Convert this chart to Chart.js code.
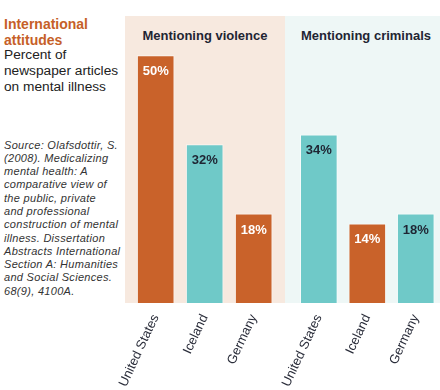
<!DOCTYPE html>
<html>
<head>
<meta charset="utf-8">
<script src="https://cdn.jsdelivr.net/npm/chart.js@4"></script>
<style>
  html, body { margin: 0; padding: 0; background: #fff; }
  #wrap { position: relative; width: 440px; height: 390px; overflow: hidden; font-family: 'Liberation Sans', Arial, sans-serif; }
  .panel { position: absolute; top: 16px; height: 287px; }
  #panelViolence { left: 125px; width: 160px; background: #f7e9df; }
  #panelCriminals { left: 285px; width: 155px; background: #eef7f6; }
  .panelTitle { position: absolute; top: 28px; line-height: 15px; font-weight: bold; font-size: 13px; color: #1f2533; text-align: center; white-space: nowrap; }
  #title { position: absolute; left: 4px; top: 15.5px; font-size: 14px; line-height: 16px; font-weight: bold; color: #c65f28; }
  #subtitle { position: absolute; left: 4px; top: 46.5px; font-size: 13.7px; line-height: 16.4px; color: #222; }
  #source { position: absolute; left: 4px; top: 138.5px; font-size: 11px; line-height: 13.3px; letter-spacing: 0.3px; font-style: italic; color: #333; white-space: nowrap; }
  canvas { position: absolute; left: 0; top: 0; }
</style>
</head>
<body>
<div id="wrap">
  <div class="panel" id="panelViolence"></div>
  <div class="panel" id="panelCriminals"></div>
  <div class="panelTitle" style="left:125px; width:160px;">Mentioning violence</div>
  <div class="panelTitle" style="left:290px; width:152px;">Mentioning criminals</div>
  <div id="title">International<br>attitudes</div>
  <div id="subtitle">Percent of<br>newspaper articles<br>on mental illness</div>
  <div id="source">Source: Olafsdottir, S.<br>(2008). Medicalizing<br>mental health: A<br>comparative view of<br>the public, private<br>and professional<br>construction of mental<br>illness. Dissertation<br>Abstracts International<br>Section A: Humanities<br>and Social Sciences.<br>68(9), 4100A.</div>
  <canvas id="chartViolence" width="440" height="390"></canvas>
  <canvas id="chartCriminals" width="440" height="390"></canvas>
</div>
<script>
const countries = ['United States', 'Iceland', 'Germany'];
const violenceValues = [50, 32, 18];
const violenceText = ['50%', '32%', '18%'];
// the picture prints 14% but draws that bar at about 16% height
const criminalsValues = [34, 16, 18];
const criminalsText = ['34%', '14%', '18%'];

const orange = '#c9622a';
const teal = '#6fc9c8';
const white = '#ffffff';
const dark = '#1f2533';

const valueLabels = {
    id: 'valueLabels',
    afterDatasetsDraw(chart, args, opts) {
        const ctx = chart.ctx;
        const bars = chart.getDatasetMeta(0).data;
        ctx.save();
        ctx.font = 'bold 13px "Liberation Sans", Arial, sans-serif';
        ctx.textAlign = 'center';
        ctx.textBaseline = 'middle';
        bars.forEach((bar, i) => {
            ctx.fillStyle = opts.colors[i];
            ctx.fillText(opts.text[i], bar.x, bar.y + 16);
        });
        ctx.restore();
    }
};

function makeChart(id, values, text, barColors, textColors, padLeft, padRight) {
    return new Chart(document.getElementById(id), {
        type: 'bar',
        data: {
            labels: countries,
            datasets: [{
                data: values,
                backgroundColor: barColors,
                borderColor: 'rgba(255,255,255,0.55)',
                borderWidth: 1,
                barThickness: 37
            }]
        },
        options: {
            responsive: false,
            animation: false,
            devicePixelRatio: 1,
            layout: { padding: { left: padLeft, right: padRight, top: 16, bottom: 0 } },
            plugins: {
                legend: { display: false },
                tooltip: { enabled: false },
                valueLabels: { text: text, colors: textColors }
            },
            scales: {
                y: { display: false, min: 0, max: 58 },
                x: {
                    grid: { display: false },
                    border: { display: false },
                    ticks: {
                        minRotation: 65,
                        maxRotation: 65,
                        padding: 1,
                        color: '#2a2d3a',
                        font: { size: 13, family: '"Liberation Sans", Arial, sans-serif' }
                    },
                    afterFit: s => { s.height = 87; }
                }
            }
        },
        plugins: [valueLabels]
    });
}

makeChart('chartViolence', violenceValues, violenceText,
    [orange, teal, orange], [white, dark, white], 131.2, 161.8);
makeChart('chartCriminals', criminalsValues, criminalsText,
    [teal, orange, teal], [dark, white, dark], 294.6, 0);
</script>
</body>
</html>
